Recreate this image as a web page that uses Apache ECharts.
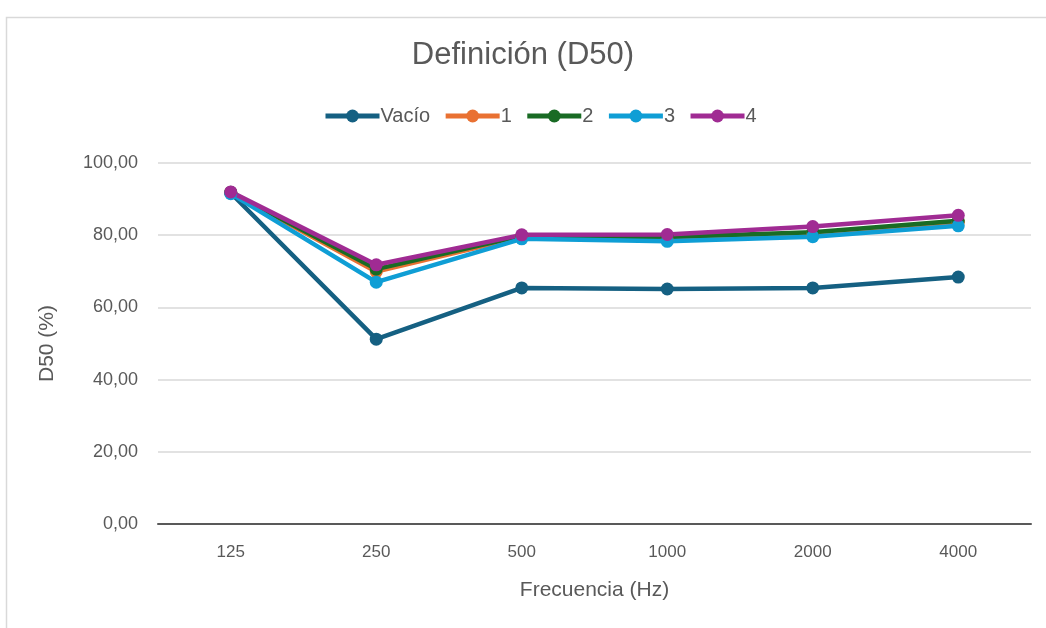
<!DOCTYPE html>
<html>
<head>
<meta charset="utf-8">
<script src="https://cdn.jsdelivr.net/npm/echarts@6/dist/echarts.min.js"></script>
<style>
html,body{margin:0;padding:0;background:#fff;}
#chart{width:1046px;height:628px;}
</style>
</head>
<body>
<div id="chart"></div>
<script>
const categories = ['125', '250', '500', '1000', '2000', '4000'];
const vacio = [91.7, 51.2, 65.4, 65.1, 65.4, 68.4];
const s1 = [91.8, 69.9, 79.5, 79.0, 80.3, 83.6];
const s2 = [91.9, 70.6, 79.8, 79.5, 80.8, 84.0];
const s3 = [91.5, 67.0, 79.0, 78.3, 79.6, 82.6];
const s4 = [92.0, 71.8, 80.1, 80.2, 82.4, 85.5];
const seriesNames = ['Vacío', '1', '2', '3', '4'];
const seriesColors = ['#156082', '#E97132', '#196B24', '#0F9ED5', '#A02B93'];

const FONT = '"Liberation Sans", Arial, sans-serif';
const TXT = '#595959';

const chart = echarts.init(document.getElementById('chart'));
const data = [vacio, s1, s2, s3, s4];
chart.setOption({
  animation: false,
  backgroundColor: '#fff',
  graphic: [{
    type: 'rect', left: 4, top: 15,
    shape: { width: 1060, height: 640 },
    style: { fill: 'none', stroke: '#d9d9d9', lineWidth: 1.5 },
    silent: true
  }],
  title: {
    text: 'Definición (D50)',
    left: 'center', top: 35,
    textStyle: { fontFamily: FONT, fontSize: 31, fontWeight: 'normal', color: TXT }
  },
  legend: {
    top: 101, left: 318,
    itemWidth: 54, itemHeight: 16, itemGap: 13,
    lineStyle: { width: 5 },
    textStyle: { fontFamily: FONT, fontSize: 20, color: TXT, padding: [0, 0, 0, -4] },
    data: seriesNames
  },
  grid: { left: 158, right: 15, top: 163, bottom: 104, containLabel: false },
  xAxis: {
    type: 'category', data: categories, boundaryGap: true,
    axisLine: { lineStyle: { color: '#595959', width: 2 } },
    axisTick: { show: false },
    axisLabel: { fontFamily: FONT, fontSize: 17, color: TXT, margin: 20 },
    name: 'Frecuencia (Hz)', nameLocation: 'middle', nameGap: 56,
    nameTextStyle: { fontFamily: FONT, fontSize: 21, color: TXT }
  },
  yAxis: {
    type: 'value', min: 0, max: 100, interval: 20,
    axisLine: { show: false }, axisTick: { show: false },
    splitLine: { lineStyle: { color: '#d9d9d9', width: 1.5 } },
    axisLabel: { fontFamily: FONT, fontSize: 18, color: TXT, margin: 20,
      formatter: v => v.toFixed(2).replace('.', ',') },
    name: 'D50 (%)', nameLocation: 'middle', nameGap: 100, nameRotate: 90,
    nameTextStyle: { fontFamily: FONT, fontSize: 21, color: TXT }
  },
  series: seriesNames.map((n, i) => ({
    name: n, type: 'line', data: data[i],
    color: seriesColors[i],
    lineStyle: { width: 4.5, color: seriesColors[i] },
    itemStyle: { color: seriesColors[i] },
    symbol: 'circle', symbolSize: 13
  }))
});
</script>
</body>
</html>
